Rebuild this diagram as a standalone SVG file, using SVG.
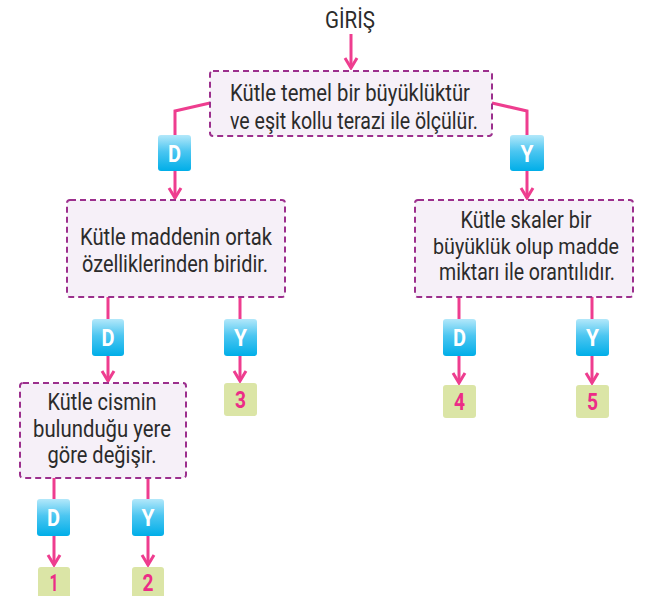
<svg xmlns="http://www.w3.org/2000/svg" width="645" height="596" viewBox="0 0 645 596">
<style>
.box{fill:#f6f0f8;stroke:#9c2f8d;stroke-width:2;stroke-dasharray:6 4}
.t{font-family:Roboto,"Liberation Sans",sans-serif;font-size:23px;fill:#2b2b2b;text-anchor:middle}
.con{fill:none;stroke:#ee3d8f;stroke-width:3}
.arr{fill:none;stroke:#ee3d8f;stroke-width:3;marker-end:url(#ah)}
.badge{fill:url(#bg)}
.bt{font-family:Roboto,"Liberation Sans",sans-serif;font-weight:bold;font-size:24px;fill:#ffffff;text-anchor:middle}
.num{fill:#dbe5a6}
.nt{font-family:Roboto,"Liberation Sans",sans-serif;font-weight:bold;font-size:23px;fill:#ec2c87;text-anchor:middle}
</style>
<defs>
<linearGradient id="bg" x1="0" y1="0" x2="0" y2="1">
<stop offset="0" stop-color="#b3e8fa"/>
<stop offset="0.45" stop-color="#4cc6f1"/>
<stop offset="1" stop-color="#00aee8"/>
</linearGradient>
<marker id="ah" markerUnits="userSpaceOnUse" viewBox="-12 -8 14 16" markerWidth="14" markerHeight="16" refX="0" refY="0" orient="auto">
<path d="M-10,-6 L0,0 L-10,6" fill="none" stroke="#ee3d8f" stroke-width="3"/>
</marker>
</defs>
<g id="connectors">
<path class="arr" d="M351,34 V68"/>
<path class="con" d="M210,103 L175,111 V135"/>
<path class="arr" d="M175,171 V198"/>
<path class="con" d="M492,103 L527,111 V135"/>
<path class="arr" d="M527,171 V198"/>
<path class="con" d="M108,297 V319"/>
<path class="arr" d="M108,356 V381"/>
<path class="con" d="M240,297 V319"/>
<path class="arr" d="M240,356 V381"/>
<path class="con" d="M459,297 V319"/>
<path class="arr" d="M459,356 V383"/>
<path class="con" d="M592,297 V319"/>
<path class="arr" d="M592,356 V383"/>
<path class="con" d="M54,478 V499"/>
<path class="arr" d="M54,536 V565"/>
<path class="con" d="M148,478 V499"/>
<path class="arr" d="M148,536 V565"/>
</g>
<g id="start"><text class="t" x="350" y="28" textLength="50" lengthAdjust="spacingAndGlyphs">GİRİŞ</text></g>
<g id="q1">
<rect class="box" x="210" y="71" width="282" height="65" rx="3"/>
<text class="t" x="350" y="101" textLength="240" lengthAdjust="spacingAndGlyphs">Kütle temel bir büyüklüktür</text>
<text class="t" x="354" y="129" textLength="248" lengthAdjust="spacingAndGlyphs">ve eşit kollu terazi ile ölçülür.</text>
</g>
<g id="b1D"><rect class="badge" x="158" y="135" width="33" height="36" rx="3"/><text class="bt" x="174.5" y="162" textLength="13" lengthAdjust="spacingAndGlyphs">D</text></g>
<g id="b1Y"><rect class="badge" x="510" y="135" width="34" height="36" rx="3"/><text class="bt" x="527" y="162" textLength="13" lengthAdjust="spacingAndGlyphs">Y</text></g>
<g id="q2">
<rect class="box" x="67" y="200" width="218" height="97" rx="3"/>
<text class="t" x="176" y="245" textLength="192" lengthAdjust="spacingAndGlyphs">Kütle maddenin ortak</text>
<text class="t" x="175" y="272" textLength="186" lengthAdjust="spacingAndGlyphs">özelliklerinden biridir.</text>
</g>
<g id="q3">
<rect class="box" x="415" y="200" width="218" height="97" rx="3"/>
<text class="t" x="526" y="228" textLength="131" lengthAdjust="spacingAndGlyphs">Kütle skaler bir</text>
<text class="t" x="526" y="254" style="font-size:22px" textLength="186" lengthAdjust="spacingAndGlyphs">büyüklük olup madde</text>
<text class="t" x="527" y="280" textLength="176" lengthAdjust="spacingAndGlyphs">miktarı ile orantılıdır.</text>
</g>
<g id="b2D"><rect class="badge" x="92" y="319" width="32" height="37" rx="3"/><text class="bt" x="108" y="346" textLength="13" lengthAdjust="spacingAndGlyphs">D</text></g>
<g id="b2Y"><rect class="badge" x="224" y="319" width="33" height="37" rx="3"/><text class="bt" x="240.5" y="346" textLength="13" lengthAdjust="spacingAndGlyphs">Y</text></g>
<g id="b3D"><rect class="badge" x="443" y="319" width="33" height="37" rx="3"/><text class="bt" x="459.5" y="346" textLength="13" lengthAdjust="spacingAndGlyphs">D</text></g>
<g id="b3Y"><rect class="badge" x="576" y="319" width="33" height="37" rx="3"/><text class="bt" x="592.5" y="346" textLength="13" lengthAdjust="spacingAndGlyphs">Y</text></g>
<g id="r3"><rect class="num" x="224" y="383" width="33" height="33" rx="3"/><text class="nt" x="240.5" y="408" textLength="11" lengthAdjust="spacingAndGlyphs">3</text></g>
<g id="r4"><rect class="num" x="443" y="385" width="33" height="33" rx="3"/><text class="nt" x="459.5" y="410" textLength="11" lengthAdjust="spacingAndGlyphs">4</text></g>
<g id="r5"><rect class="num" x="576" y="385" width="33" height="33" rx="3"/><text class="nt" x="592.5" y="410" textLength="11" lengthAdjust="spacingAndGlyphs">5</text></g>
<g id="q4">
<rect class="box" x="20" y="383" width="166" height="95" rx="3"/>
<text class="t" x="102" y="410" textLength="109" lengthAdjust="spacingAndGlyphs">Kütle cismin</text>
<text class="t" x="102" y="437" textLength="138" lengthAdjust="spacingAndGlyphs">bulunduğu yere</text>
<text class="t" x="102" y="463" textLength="109" lengthAdjust="spacingAndGlyphs">göre değişir.</text>
</g>
<g id="b4D"><rect class="badge" x="37" y="499" width="33" height="37" rx="3"/><text class="bt" x="53.5" y="526" textLength="13" lengthAdjust="spacingAndGlyphs">D</text></g>
<g id="b4Y"><rect class="badge" x="132" y="499" width="32" height="37" rx="3"/><text class="bt" x="148" y="526" textLength="13" lengthAdjust="spacingAndGlyphs">Y</text></g>
<g id="r1"><rect class="num" x="38" y="567" width="32" height="33" rx="3"/><text class="nt" x="54" y="591" textLength="9" lengthAdjust="spacingAndGlyphs">1</text></g>
<g id="r2"><rect class="num" x="132" y="567" width="32" height="33" rx="3"/><text class="nt" x="148" y="591" textLength="11" lengthAdjust="spacingAndGlyphs">2</text></g>
</svg>
